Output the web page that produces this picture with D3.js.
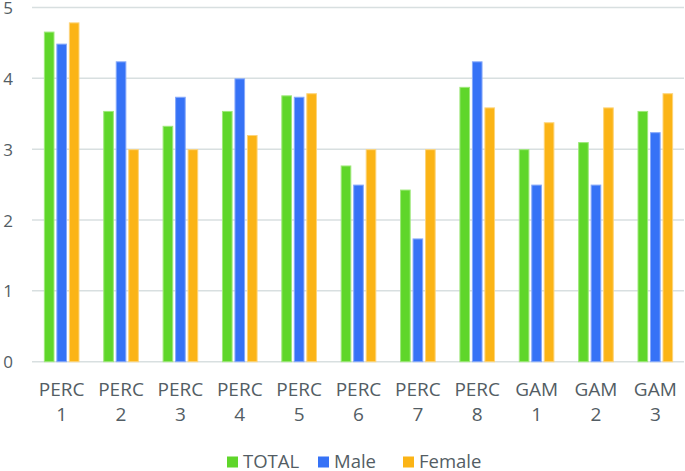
<!DOCTYPE html>
<html>
<head>
<meta charset="utf-8">
<script src="https://cdn.jsdelivr.net/npm/d3@7"></script>
<style>
  html, body { margin: 0; padding: 0; background: #fff; }
  svg { display: block; }
  text { font-family: "Open Sans", "Noto Sans", sans-serif; fill: #535d64; }
</style>
</head>
<body>
<script>
const categories = [["PERC","1"],["PERC","2"],["PERC","3"],["PERC","4"],["PERC","5"],["PERC","6"],["PERC","7"],["PERC","8"],["GAM","1"],["GAM","2"],["GAM","3"]];
const seriesNames = ["TOTAL", "Male", "Female"];
const totalValues  = [4.66, 3.54, 3.33, 3.54, 3.76, 2.77, 2.43, 3.88, 3.00, 3.10, 3.54];
const maleValues   = [4.49, 4.24, 3.74, 4.00, 3.74, 2.50, 1.74, 4.24, 2.50, 2.50, 3.24];
const femaleValues = [4.79, 3.00, 3.00, 3.20, 3.79, 3.00, 3.00, 3.59, 3.38, 3.59, 3.79];
const yTicks = [0, 1, 2, 3, 4, 5];
const colors = ["#5fd62a", "#3672f6", "#fbb416"];
const strokeColors = ["#9ee87a", "#86a9fa", "#fdd47a"];

const W = 685, H = 471;
const svg = d3.select("body").append("svg").attr("width", W).attr("height", H);

const catKeys = categories.map((c, i) => i);
const x = d3.scaleBand().domain(catKeys).range([32, 685]).paddingInner(0).paddingOuter(0);
const xInner = d3.scaleBand().domain(seriesNames)
  .range([x.bandwidth() * 0.2, x.bandwidth() * 0.8]).paddingInner(0.15).paddingOuter(0);
const y = d3.scaleLinear().domain([0, 5]).range([361.7, 7.5]);

// gridlines
svg.append("g").selectAll("line").data(yTicks).join("line")
  .attr("x1", 32).attr("x2", 684)
  .attr("y1", d => y(d)).attr("y2", d => y(d))
  .attr("stroke", "#d8dfe0").attr("stroke-width", 1.5);

// y labels
const yAxis = d3.axisLeft(y).tickValues(yTicks).tickFormat(d3.format("d")).tickSize(0).tickPadding(0);
const yg = svg.append("g").attr("transform", "translate(13,0)").call(yAxis);
yg.select(".domain").remove();
yg.selectAll("text").style("font-size", "17px").style("font-family", "'Open Sans', sans-serif")
  .attr("fill", "#535d64").attr("dy", "0.36em");

// bars
const seriesData = [totalValues, maleValues, femaleValues];
seriesData.forEach((vals, si) => {
  svg.append("g").selectAll("rect").data(vals).join("rect")
    .attr("x", (d, i) => x(i) + xInner(seriesNames[si]) + 0.5)
    .attr("y", d => y(d) + 0.5)
    .attr("width", xInner.bandwidth() - 1)
    .attr("height", d => y(0) - y(d) - 0.5)
    .attr("fill", colors[si])
    .attr("stroke", strokeColors[si])
    .attr("stroke-width", 1);
});

// x labels
const xl = svg.append("g");
categories.forEach((c, i) => {
  const cx = x(i) + x.bandwidth() / 2;
  const t = xl.append("text").attr("text-anchor", "middle").style("font-size", "19px");
  t.append("tspan").attr("x", cx).attr("y", 396).text(c[0]);
  t.append("tspan").attr("x", cx).attr("y", 421).text(c[1]);
});

// legend
const legendX = [227, 318, 403];
const lg = svg.append("g");
seriesNames.forEach((n, i) => {
  lg.append("rect").attr("x", legendX[i]).attr("y", 456.5).attr("width", 11).attr("height", 11)
    .attr("fill", colors[i]);
  lg.append("text").attr("x", legendX[i] + 16).attr("y", 467.5).style("font-size", "18.5px").text(n);
});
</script>
</body>
</html>
